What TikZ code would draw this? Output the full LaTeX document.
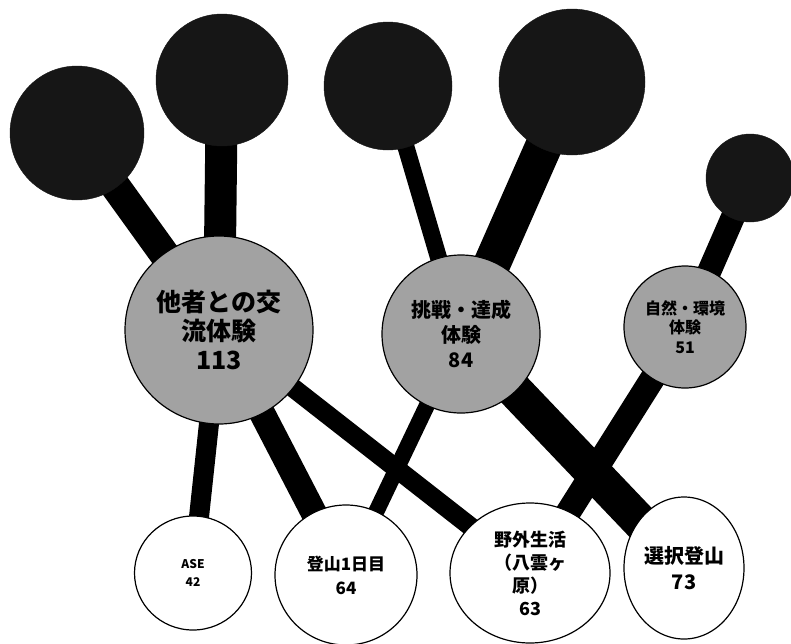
\documentclass[tikz,border=0pt]{standalone}
\usepackage{fontspec}
\newfontfamily\jp{Noto Sans CJK JP}
\usetikzlibrary{backgrounds,shapes.geometric}
\definecolor{darkfill}{HTML}{161616}
\definecolor{grayfill}{HTML}{A2A2A2}
\begin{document}
\begin{tikzpicture}[x=1pt,y=-1pt,
  darkball/.style={circle,fill=darkfill,draw=darkfill,inner sep=0pt,minimum size=#1},
  midball/.style={circle,fill=grayfill,draw=black,line width=1.2pt,inner sep=0pt,minimum size=#1,align=center},
  leafball/.style={ellipse,fill=white,draw=black,line width=1.2pt,inner sep=0pt,align=center},
  linkline/.style={draw=black,line width=#1}]
\useasboundingbox (0,0) rectangle (791,643);
% top dark circles
\node[darkball=134pt] (d1) at (77,133) {};
\node[darkball=132pt] (d2) at (222,80) {};
\node[darkball=128pt] (d3) at (388,86) {};
\node[darkball=146pt] (d4) at (572,82) {};
\node[darkball=88pt]  (d5) at (750,178) {};
% middle gray circles
\node[midball=188pt,font={\jp\bfseries\fontsize{25}{29}\selectfont}] (g1) at (219,330) {他者との交\\流体験\\113};
\node[midball=158pt,font={\jp\bfseries\fontsize{20}{25}\selectfont}] (g2) at (461,334) {挑戦・達成\\体験\\84};
\node[midball=122pt,font={\jp\bfseries\fontsize{16}{19.5}\selectfont}] (g3) at (685,327) {自然・環境\\体験\\51};
% bottom white circles
\node[leafball,minimum width=117pt,minimum height=114pt,font={\jp\bfseries\fontsize{12}{18}\selectfont}] (w1) at (193,573) {ASE\\42};
\node[leafball,minimum width=142pt,minimum height=140pt,font={\jp\bfseries\fontsize{17}{24}\selectfont}] (w2) at (346,575) {登山1日目\\64};
\node[leafball,minimum width=160pt,minimum height=140pt,font={\jp\bfseries\fontsize{18}{23}\selectfont}] (w3) at (530,573) {野外生活\\（八雲ヶ\\原）\\63};
\node[leafball,minimum width=120pt,minimum height=142pt,font={\jp\bfseries\fontsize{20}{26}\selectfont}] (w4) at (684,568) {選択登山\\73};
% connectors
\begin{scope}[on background layer]
\draw[linkline=30pt] (d1.center) -- (g1.center);
\draw[linkline=32pt] (d2.center) -- (g1.center);
\draw[linkline=17pt] (d3.center) -- (g2.center);
\draw[linkline=37pt] (d4.center) -- (g2.center);
\draw[linkline=24pt] (d5.center) -- (g3.center);
\draw[linkline=20pt] (g1.center) -- (w1.center);
\draw[linkline=26pt] (g1.center) -- (w2.center);
\draw[linkline=19pt] (g1.center) -- (w3.center);
\draw[linkline=16pt] (g2.center) -- (w2.center);
\draw[linkline=36pt] (g2.center) -- (w4.center);
\draw[linkline=25pt] (g3.center) -- (w3.center);
\end{scope}
\end{tikzpicture}
\end{document}
